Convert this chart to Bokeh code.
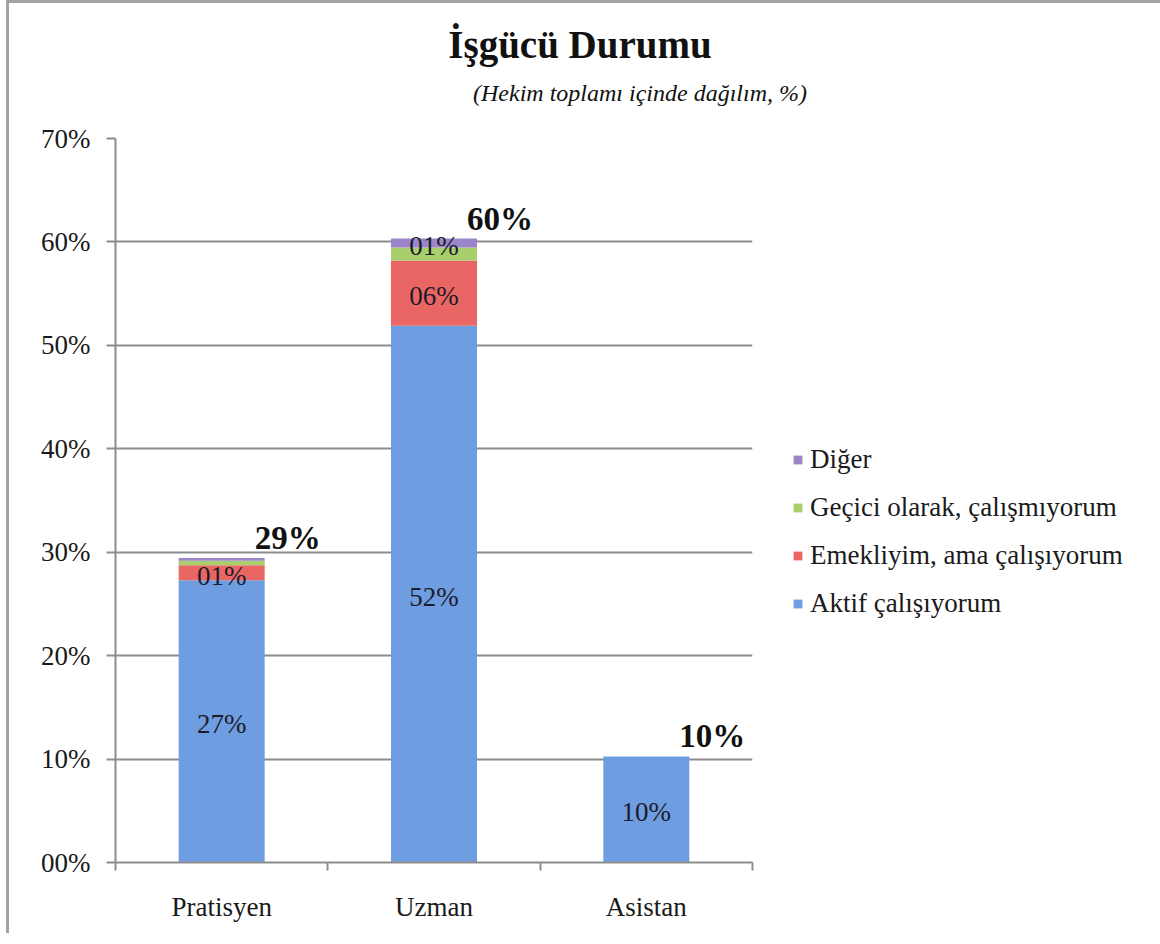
from bokeh.plotting import figure
from bokeh.layouts import column
from bokeh.models import (Range1d, FixedTicker, Legend, LegendItem, Div,
                          ColumnDataSource)
from bokeh.core.properties import value
from bokeh.embed import file_html
from bokeh.resources import INLINE

# ---------------- data ----------------
categories = ["Pratisyen", "Uzman", "Asistan"]
series = ["Aktif çalışıyorum", "Emekliyim, ama çalışıyorum",
          "Geçici olarak, çalışmıyorum", "Diğer"]
aktif = [27.3, 51.9, 10.25]
emekli = [1.45, 6.3, 0.0]
gecici = [0.42, 1.26, 0.0]
diger = [0.28, 0.87, 0.0]
# which segments carry a value label (series index per category)
labelled = {"Pratisyen": [0, 1], "Uzman": [0, 1, 3], "Asistan": [0]}
y_ticks = [0, 10, 20, 30, 40, 50, 60, 70]
y_tick_labels = ["00%", "10%", "20%", "30%", "40%", "50%", "60%", "70%"]
title_text = "İşgücü Durumu"
subtitle_text = "(Hekim toplamı içinde dağılım, %)"

colors = ["#6e9de2", "#ea6664", "#a9cf6c", "#9a86c9"]
FONT = "Liberation Serif"
W = 1146
HDR_H = 115

# ---------------- header (title + subtitle) ----------------
hdr_html = (
    f'<div style="position:relative;width:{W}px;height:{HDR_H}px;'
    f'font-family:\'{FONT}\';color:#111111;">'
    f'<div style="position:absolute;left:0;top:20px;width:1142px;'
    f'text-align:center;font-size:39px;font-weight:bold;line-height:44px;'
    f'white-space:nowrap;">{title_text}</div>'
    f'<div style="position:absolute;left:331px;top:76px;width:600px;'
    f'text-align:center;font-size:24px;font-style:italic;line-height:28px;'
    f'white-space:nowrap;">{subtitle_text}</div>'
    f'</div>'
)
hdr = Div(text=hdr_html, width=W, height=HDR_H, margin=0)

# ---------------- chart ----------------
xs = [i + 0.5 for i in range(len(categories))]
values = [aktif, emekli, gecici, diger]
keys = ["s0", "s1", "s2", "s3"]
src = ColumnDataSource({"x": xs, **{k: v for k, v in zip(keys, values)}})

p = figure(frame_width=637, frame_height=724, output_backend="svg",
           toolbar_location=None,
           x_range=Range1d(0, 3), y_range=Range1d(0, 70),
           min_border_left=106, min_border_right=403,
           min_border_top=20, min_border_bottom=71, title=None, margin=0)
p.outline_line_color = None
p.background_fill_color = "white"
p.border_fill_color = "white"

renderers = p.vbar_stack(keys, x="x", width=0.405, color=colors,
                         line_color=None, source=src)

# segment labels
lx, ly, lt = [], [], []
for ci, cat in enumerate(categories):
    base = 0.0
    for si in range(len(series)):
        v = values[si][ci]
        if si in labelled[cat]:
            lx.append(xs[ci])
            ly.append(base + v / 2)
            lt.append(f"{round(v):02d}%")
        base += v
p.text(x=lx, y=ly, text=lt, text_font=value(FONT), text_font_size="27px",
       text_color="#1c1c2a", text_align="center", text_baseline="middle",
       y_offset=3)

# totals
totals = [sum(values[si][ci] for si in range(len(series))) for ci in range(len(categories))]
p.text(x=xs, y=totals, text=[f"{round(t)}%" for t in totals],
       text_font=value(FONT), text_font_size="33px", text_font_style="bold",
       text_color="#111111", text_align="center", text_baseline="middle",
       x_offset=66, y_offset=-20)

# axes
p.xgrid.grid_line_color = None
p.ygrid.grid_line_color = "#8c8c8c"
p.ygrid.grid_line_width = 2
p.ygrid.ticker = FixedTicker(ticks=y_ticks)

yax = p.yaxis[0]
yax.ticker = FixedTicker(ticks=y_ticks)
yax.major_label_overrides = {t: l for t, l in zip(y_ticks, y_tick_labels)}
yax.axis_line_color = "#8c8c8c"
yax.axis_line_width = 2
yax.major_tick_line_color = "#8c8c8c"
yax.major_tick_line_width = 2
yax.major_tick_out = 9
yax.major_tick_in = 0
yax.minor_tick_line_color = None
yax.major_label_standoff = 16
yax.major_label_text_font = FONT
yax.major_label_text_font_size = "27px"
yax.major_label_text_color = "#1a1a1a"

xax = p.xaxis[0]
xax.ticker = FixedTicker(ticks=xs, minor_ticks=[0, 1, 2, 3])
xax.major_label_overrides = {x: c for x, c in zip(xs, categories)}
xax.axis_line_color = "#8c8c8c"
xax.axis_line_width = 2
xax.major_tick_line_color = None
xax.major_tick_out = 0
xax.major_tick_in = 0
xax.minor_tick_line_color = "#8c8c8c"
xax.minor_tick_line_width = 2
xax.minor_tick_out = 8
xax.minor_tick_in = 0
xax.major_label_standoff = 21
xax.major_label_text_font = FONT
xax.major_label_text_font_size = "27px"
xax.major_label_text_color = "#1a1a1a"

# legend (reversed order, as in reference)
items = [LegendItem(label=series[i], renderers=[renderers[i]]) for i in range(len(series))][::-1]
legend = Legend(items=items, location=(40, 243), padding=0, margin=0,
                spacing=17, glyph_width=11, glyph_height=11, label_height=30,
                label_standoff=7, label_text_font=FONT,
                label_text_font_size="27px", label_text_color="#1a1a1a",
                border_line_color=None, background_fill_alpha=0)
p.add_layout(legend, "right")

layout = column(hdr, p, spacing=0,
                styles={"border": "3px solid #a3a3a3", "border-bottom": "none",
                        "margin-left": "6px", "background": "white"})

open("out.html", "w").write(file_html(layout, INLINE))
